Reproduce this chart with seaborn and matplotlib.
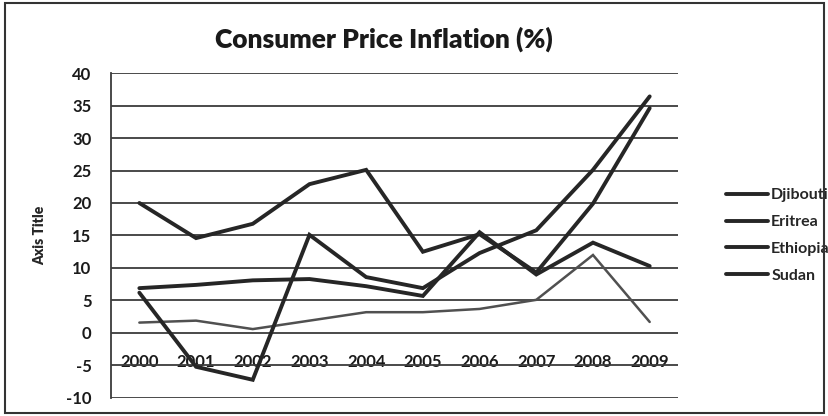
import pandas as pd
import matplotlib
matplotlib.use("Agg")
import matplotlib.pyplot as plt
import seaborn as sns
from matplotlib.patches import Rectangle
from matplotlib.lines import Line2D

years = ["2000", "2001", "2002", "2003", "2004", "2005", "2006", "2007", "2008", "2009"]
djibouti = [1.6, 1.9, 0.6, 1.9, 3.2, 3.2, 3.7, 5.1, 12.0, 1.7]
eritrea = [20.0, 14.6, 16.8, 22.9, 25.1, 12.5, 15.2, 9.3, 19.9, 34.6]
ethiopia = [6.2, -5.2, -7.2, 15.1, 8.6, 6.9, 12.3, 15.8, 25.1, 36.4]
sudan = [6.9, 7.4, 8.1, 8.3, 7.2, 5.7, 15.5, 9.0, 13.9, 10.3]
countries = ["Djibouti", "Eritrea", "Ethiopia", "Sudan"]
colors = {"Djibouti": "#505050", "Eritrea": "#262626", "Ethiopia": "#262626", "Sudan": "#262626"}
widths = {"Djibouti": 1.8, "Eritrea": 2.8, "Ethiopia": 2.8, "Sudan": 2.8}

rows = []
for name, vals in zip(countries, [djibouti, eritrea, ethiopia, sudan]):
    for i, v in enumerate(vals):
        rows.append({"x": i, "value": v, "country": name})
df = pd.DataFrame(rows)

sns.set_style("white")
plt.rcParams['font.family'] = ['Lato', 'DejaVu Sans']
plt.rcParams['axes.unicode_minus'] = False

fig = plt.figure(figsize=(8.29, 4.16), dpi=100)
ax = fig.add_axes([0.1339, 0.0433, 0.684, 0.7812])

p = sns.lineplot(data=df, x="x", y="value", hue="country", palette=colors,
                 hue_order=countries, ax=ax, legend=False)
for line, name in zip(ax.lines, countries):
    line.set_linewidth(widths[name])
    line.set_solid_joinstyle("miter")

ax.set_xlim(-0.5, len(years) - 0.5)
ax.set_ylim(-10, 40)
ax.set_yticks(range(-10, 41, 5))
ax.set_xticks(range(len(years)))
ax.set_xticklabels(years)
ax.yaxis.grid(True, color="#3c3c3c", linewidth=1.3)
ax.set_axisbelow(True)

for s in ["top", "right"]:
    ax.spines[s].set_visible(False)
ax.spines["left"].set_color("#3c3c3c")
ax.spines["left"].set_linewidth(1.3)
ax.spines["bottom"].set_position(("data", 0))
ax.spines["bottom"].set_visible(False)

ax.tick_params(axis="x", length=0, pad=15, labelsize=12)
ax.tick_params(axis="y", length=0, pad=14, labelsize=12)
for lbl in ax.get_xticklabels() + ax.get_yticklabels():
    lbl.set_fontweight("bold")
    lbl.set_color("#1a1a1a")

ax.set_xlabel("")
ax.set_ylabel("Axis Title", fontsize=10, fontweight="heavy", labelpad=14)

handles = [Line2D([0], [0], color="#262626", lw=2.8) for _ in countries]
leg = ax.legend(handles, countries, loc="center left", bbox_to_anchor=(1.06, 0.50),
                frameon=False, handlelength=2.6, handletextpad=0.2, labelspacing=0.8,
                prop={"weight": "bold", "size": 11.5})

fig.text(0.463, 0.905, "Consumer Price Inflation (%)", ha="center", va="center",
         fontsize=19, fontweight="heavy", color="#1a1a1a")

fig.patches.append(Rectangle((0.006, 0.008), 0.988, 0.985, transform=fig.transFigure,
                             fill=False, edgecolor="#333333", linewidth=1.5))

fig.savefig("out.png", dpi=100)
